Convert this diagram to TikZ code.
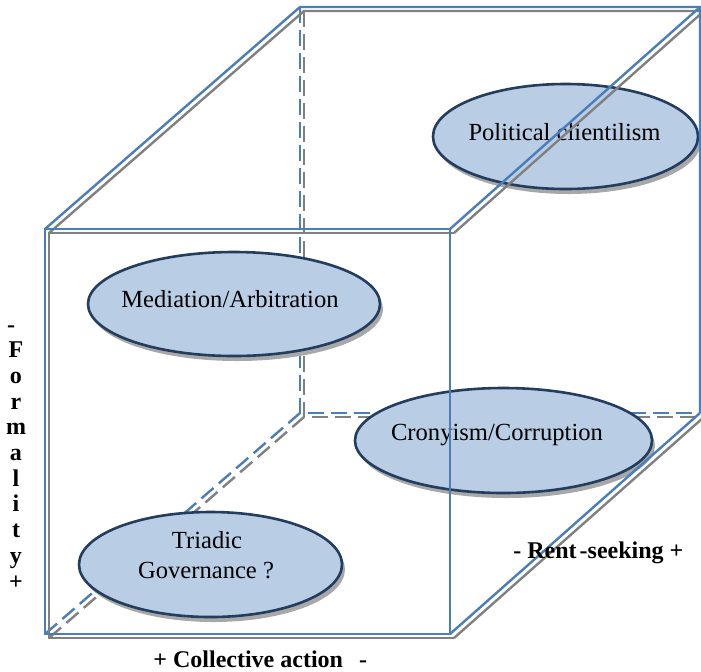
\documentclass[tikz,border=0pt]{standalone}
\usepackage{fontspec}
\setmainfont{Liberation Serif}
\usetikzlibrary{shapes.geometric,shadows}
\definecolor{cubeblue}{HTML}{4A7EBB}
\definecolor{cubegray}{HTML}{808080}
\definecolor{ellfill}{HTML}{B9CDE5}
\definecolor{elldraw}{HTML}{223D5E}
\definecolor{shadowgray}{HTML}{A8A8A8}
\begin{document}
\begin{tikzpicture}[x=0.5pt,y=-0.5pt,
  blueline/.style={draw=cubeblue,line width=1.2pt},
  grayline/.style={draw=cubegray,line width=1.2pt},
  dashblue/.style={blueline,dash pattern=on 8pt off 3.5pt},
  dashgray/.style={grayline,dash pattern=on 8pt off 3.5pt},
  ell/.style={ellipse,draw=elldraw,line width=1.3pt,fill=ellfill,inner sep=0pt,
    drop shadow={shadow xshift=1.5pt,shadow yshift=-2.5pt,fill=shadowgray,opacity=1}},
  txt/.style={font=\fontsize{12.3}{15}\selectfont,inner sep=0pt,anchor=base},
  lab/.style={font=\fontsize{12}{15}\selectfont\bfseries,inner sep=0pt,anchor=base}]
\useasboundingbox (0,0) rectangle (701,671);
% cube corners
\coordinate (FTL) at (45,229);
\coordinate (FTR) at (450,229);
\coordinate (FBL) at (45,634);
\coordinate (FBR) at (450,634);
\coordinate (BTL) at (300,7);
\coordinate (BTR) at (700,7);
\coordinate (BBL) at (300,413);
\coordinate (BBR) at (700,413);
% hidden (dashed) edges
\draw[dashgray] ([shift={(4,4)}]BTL) -- ([shift={(4,4)}]BBL) -- ([shift={(4,4)}]BBR);
\draw[dashgray] ([shift={(4,4)}]FBL) -- ([shift={(4,4)}]BBL);
\draw[dashblue] (BTL) -- (BBL) -- (BBR);
\draw[dashblue] (FBL) -- (BBL);
% ellipses
\node[ell,minimum width=132.5pt,minimum height=52.5pt] (pc) at (565.5,136.5) {};
\node[ell,minimum width=146pt,minimum height=52pt] (ma) at (234,304) {};
\node[ell,minimum width=148.5pt,minimum height=52.5pt] (cc) at (503.5,440.5) {};
\node[ell,minimum width=131.5pt,minimum height=52.5pt] (tg) at (210.5,564.5) {};
\node[txt] (pct) at (564.5,140) {Political clientilism};
\node[txt] (mat) at (230,307) {Mediation/Arbitration};
\node[txt] (cct) at (497,440) {Cronyism/Corruption};
\node[txt] (tgt1) at (207,548) {Triadic};
\node[txt] (tgt2) at (206,578) {Governance ?};
% visible edges: gray shadow lines
\draw[grayline] ([shift={(4,4)}]FTR) -- ([shift={(4,4)}]FTL) -- ([shift={(4,4)}]FBL) -- ([shift={(4,4)}]FBR);
\draw[grayline] ([shift={(4,4)}]FTL) -- ([shift={(4,4)}]BTL) -- ([shift={(4,4)}]BTR);
\draw[grayline] ([shift={(4,4)}]FTR) -- ([shift={(4,4)}]BTR);
\draw[grayline] ([shift={(4,4)}]FBR) -- ([shift={(4,4)}]BBR);
% visible edges: blue lines
\draw[blueline] (FTL) -- (FTR) -- (FBR) -- (FBL) -- cycle;
\draw[blueline] (FTL) -- (BTL) -- (BTR) -- (BBR);
\draw[blueline] (FTR) -- (BTR);
\draw[blueline] (FBR) -- (BBR);
% axis labels
\node[lab] (fm0) at (11,332) {-};
\foreach \ch [count=\i] in {F,o,r,m,a,l,i,t,y,+}
  \node[lab] (fm\i) at (16,332+25.7*\i) {\ch};
\node[lab,anchor=base west] (coll) at (153,667) {+ Collective action\hspace{8pt}-};
\node[lab,anchor=base west] (rent) at (513,558) {- Rent{\kern1.5pt}-seeking +};
\end{tikzpicture}
\end{document}
